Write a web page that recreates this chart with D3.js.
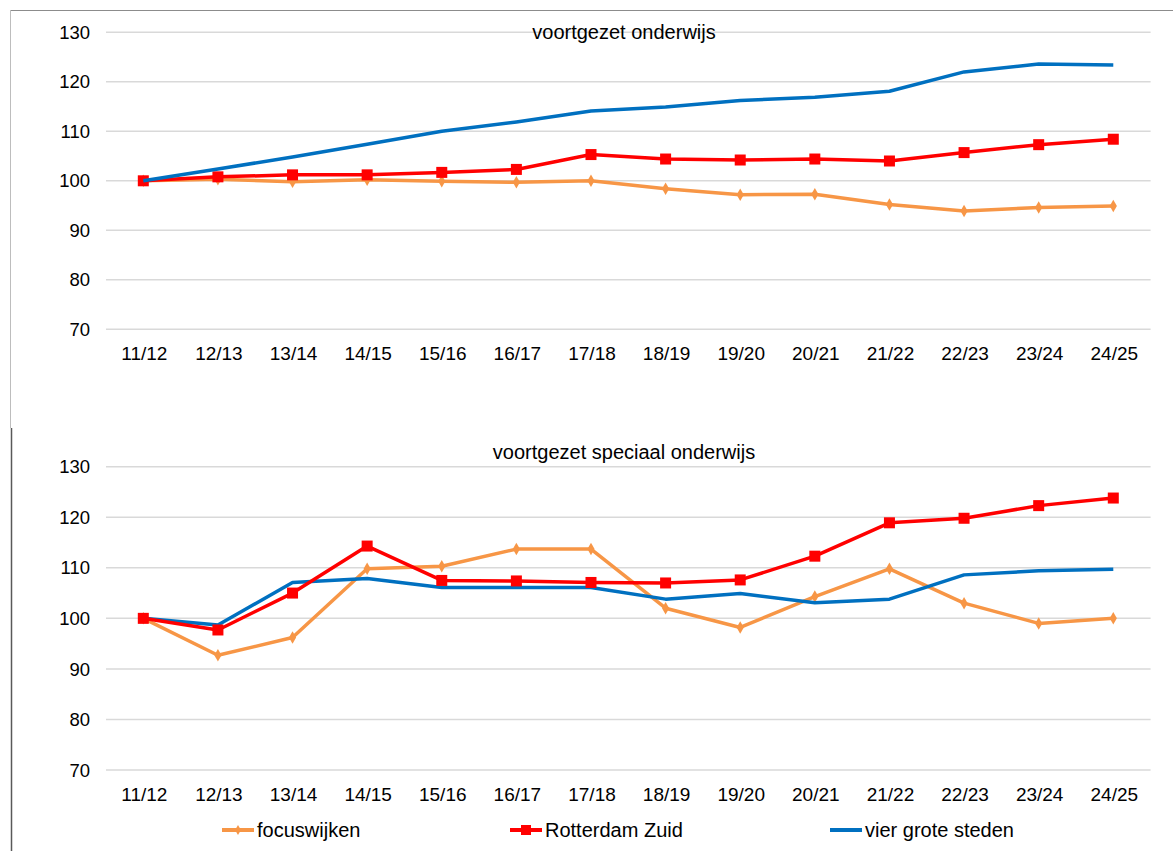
<!DOCTYPE html>
<html>
<head>
<meta charset="utf-8">
<script src="https://cdn.jsdelivr.net/npm/d3@7"></script>
<style>
  body { margin: 0; background: #fff; }
  svg { display: block; font-family: "Liberation Sans", Arial, sans-serif; }
</style>
</head>
<body>
<svg id="chart" width="1173" height="851"></svg>
<script>
const years = ["11/12", "12/13", "13/14", "14/15", "15/16", "16/17", "17/18",
               "18/19", "19/20", "20/21", "21/22", "22/23", "23/24", "24/25"];
const yTicks = [70, 80, 90, 100, 110, 120, 130];

// voortgezet onderwijs
const voFocus = [100, 100.3, 99.8, 100.2, 99.9, 99.7, 100, 98.4, 97.2, 97.3, 95.2, 93.9, 94.6, 94.9];
const voZuid = [100, 100.8, 101.2, 101.2, 101.7, 102.3, 105.3, 104.4, 104.2, 104.4, 104.0, 105.7, 107.3, 108.4];
const voG4 = [100, 102.4, 104.8, 107.4, 110.0, 111.9, 114.1, 114.9, 116.2, 116.9, 118.1, 122.0, 123.6, 123.4];

// voortgezet speciaal onderwijs
const vsoFocus = [100, 92.7, 96.2, 109.8, 110.3, 113.7, 113.7, 102.0, 98.2, 104.3, 109.8, 103.0, 99.0, 100.0];
const vsoZuid = [100, 97.7, 105.0, 114.3, 107.5, 107.4, 107.1, 107.0, 107.6, 112.3, 118.9, 119.8, 122.3, 123.8];
const vsoG4 = [100, 98.7, 107.1, 107.9, 106.1, 106.1, 106.1, 103.8, 104.9, 103.1, 103.8, 108.6, 109.4, 109.7];

const seriesNames = ["focuswijken", "Rotterdam Zuid", "vier grote steden"];
const colors = { "focuswijken": "#F79646", "Rotterdam Zuid": "#FF0000", "vier grote steden": "#0070C0" };

const svg = d3.select("#chart");

// frames
svg.append("line").attr("x1", 10).attr("x2", 1173).attr("y1", 10.5).attr("y2", 10.5)
  .attr("stroke", "#8c8c8c").attr("stroke-width", 1.2);
svg.append("line").attr("x1", 10.5).attr("x2", 10.5).attr("y1", 10).attr("y2", 428)
  .attr("stroke", "#bdbdbd").attr("stroke-width", 1);
svg.append("line").attr("x1", 11.5).attr("x2", 11.5).attr("y1", 428).attr("y2", 851)
  .attr("stroke", "#595959").attr("stroke-width", 1.5);

const x = d3.scalePoint().domain(years).range([106, 1150.6]).padding(0.5);

function panel(top, bottom, title, titleY, data) {
  const y = d3.scaleLinear().domain([70, 130]).range([bottom, top]);
  const g = svg.append("g");

  g.append("g").selectAll("line").data(yTicks).join("line")
    .attr("x1", 106).attr("x2", 1150.6)
    .attr("y1", d => y(d)).attr("y2", d => y(d))
    .attr("stroke", "#d9d9d9").attr("stroke-width", 1.5);

  g.append("g").selectAll("text").data(yTicks).join("text")
    .attr("x", 90).attr("y", d => y(d)).attr("dy", "0.36em")
    .attr("text-anchor", "end").attr("font-size", 18.5).attr("fill", "#000")
    .text(d => d);

  g.append("g").selectAll("text").data(years).join("text")
    .attr("x", d => x(d) + 1).attr("y", bottom + 31)
    .attr("text-anchor", "middle").attr("font-size", 19).attr("fill", "#000")
    .text(d => d);

  g.append("text").attr("x", 624).attr("y", titleY)
    .attr("text-anchor", "middle").attr("font-size", 20).attr("fill", "#000")
    .text(title);

  const line = d3.line().x((d, i) => x(years[i])).y(d => y(d));

  data.forEach(s => {
    g.append("path").datum(s.values)
      .attr("d", line).attr("fill", "none")
      .attr("stroke", colors[s.name]).attr("stroke-width", 3.5)
      .attr("stroke-linejoin", "round");
    if (s.name === "focuswijken") {
      g.append("g").selectAll("path").data(s.values).join("path")
        .attr("d", d3.symbol(d3.symbolDiamond, 45))
        .attr("transform", (d, i) => `translate(${x(years[i])},${y(d)})`)
        .attr("fill", colors[s.name]);
    } else if (s.name === "Rotterdam Zuid") {
      g.append("g").selectAll("rect").data(s.values).join("rect")
        .attr("x", (d, i) => x(years[i]) - 5.5).attr("y", d => y(d) - 5.5)
        .attr("width", 11).attr("height", 11)
        .attr("fill", colors[s.name]);
    }
  });
}

panel(32.3, 329.3, "voortgezet onderwijs", 39, [
  { name: "focuswijken", values: voFocus },
  { name: "Rotterdam Zuid", values: voZuid },
  { name: "vier grote steden", values: voG4 }
]);

panel(466.7, 770, "voortgezet speciaal onderwijs", 459, [
  { name: "focuswijken", values: vsoFocus },
  { name: "vier grote steden", values: vsoG4 },
  { name: "Rotterdam Zuid", values: vsoZuid }
]);

// legend
const legendX = [222, 510, 830];
const legend = svg.append("g").selectAll("g").data(seriesNames).join("g")
  .attr("transform", (d, i) => `translate(${legendX[i]},830)`);
legend.append("line").attr("x1", 0).attr("x2", 32).attr("y1", 0).attr("y2", 0)
  .attr("stroke", d => colors[d]).attr("stroke-width", 4);
legend.filter(d => d === "focuswijken").append("path")
  .attr("d", d3.symbol(d3.symbolDiamond, 30)).attr("transform", "translate(16,0)")
  .attr("fill", colors["focuswijken"]);
legend.filter(d => d === "Rotterdam Zuid").append("rect")
  .attr("x", 11).attr("y", -5).attr("width", 10).attr("height", 10)
  .attr("fill", colors["Rotterdam Zuid"]);
legend.append("text").attr("x", 35).attr("y", 0).attr("dy", "0.36em")
  .attr("font-size", 20).attr("fill", "#000").text(d => d);
</script>
</body>
</html>
